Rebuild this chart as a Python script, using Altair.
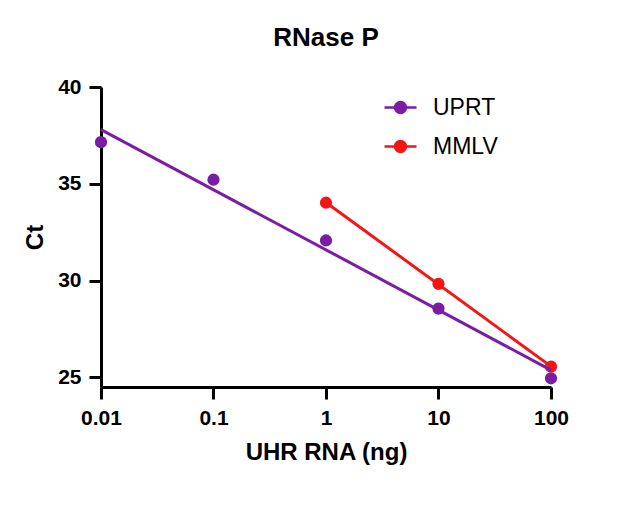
import altair as alt
import pandas as pd

'''
Standard curve data read off the plot
'''
uprt_ng = [0.01, 0.1, 1, 10, 100]
uprt_ct = [37.15, 35.21, 32.07, 28.55, 24.95]

mmlv_ng = [1, 10, 100]
mmlv_ct = [34.02, 29.83, 25.55]

series = ['UPRT', 'MMLV']
colors = ['#7a1ca6', '#f41616']

df = pd.concat([
  pd.DataFrame({'ng': uprt_ng, 'ct': uprt_ct, 'series': 'UPRT'}),
  pd.DataFrame({'ng': mmlv_ng, 'ct': mmlv_ct, 'series': 'MMLV'}),
])

font = 'Liberation Sans'
color_scale = alt.Scale(domain=series, range=colors)

# line + dot legend glyph
glyph = 'M-1,0H1M0.34,0A0.34,0.34,0,1,1,-0.34,0A0.34,0.34,0,1,1,0.34,0Z'

legend = alt.Legend(
  title=None,
  orient='none',
  legendX=282,
  legendY=3,
  padding=0,
  symbolType=glyph,
  symbolSize=1024,
  symbolStrokeWidth=2.5,
  rowPadding=9,
  labelOffset=15,
  labelFont=font,
  labelFontSize=23,
  labelFontWeight='normal',
  labelColor='black',
)

x_enc = alt.X(
  'ng:Q',
  title='UHR RNA (ng)',
  scale=alt.Scale(type='log', domain=[0.01, 100], nice=False),
  axis=alt.Axis(values=uprt_ng, format='~g', labelFlush=False, labelPadding=8, titlePadding=12),
)
y_enc = alt.Y(
  'ct:Q',
  title='Ct',
  scale=alt.Scale(domain=[24.5, 40], nice=False, zero=False),
  axis=alt.Axis(values=[25, 30, 35, 40], labelPadding=8, titlePadding=10),
)

base = alt.Chart(df)

# Points (fill + stroke so the legend glyph gets both)
points = base.mark_circle(size=105, opacity=1).encode(
  x=x_enc,
  y=y_enc,
  fill=alt.Fill('series:N', scale=color_scale, legend=legend),
  stroke=alt.Stroke('series:N', scale=color_scale, legend=legend),
)

# Fitted lines (linear fit on log10 of amount)
lines = base.transform_calculate(
  lx='log(datum.ng) / LN10'
).transform_regression(
  'lx', 'ct', groupby=['series']
).transform_calculate(
  ng='pow(10, datum.lx)'
).mark_line(strokeWidth=3).encode(
  x=x_enc,
  y=y_enc,
  stroke=alt.Stroke('series:N', scale=color_scale, legend=legend),
)

chart = alt.layer(points, lines).properties(
  width=450,
  height=300,
  title=alt.TitleParams('RNase P', font=font, fontSize=26, fontWeight='bold', color='black', offset=25),
  autosize=alt.AutoSizeParams(type='none'),
  padding={'left': 93, 'top': 79, 'right': 61, 'bottom': 122},
).configure_view(
  stroke=None
).configure_axis(
  grid=False,
  domainColor='black',
  domainWidth=3,
  tickColor='black',
  tickWidth=3,
  tickSize=12,
  labelFont=font,
  labelFontSize=21,
  labelFontWeight='bold',
  labelColor='black',
  titleFont=font,
  titleFontSize=24,
  titleFontWeight='bold',
  titleColor='black',
)

chart.save("out.html", embed_options={"renderer": "svg", "actions": False})
